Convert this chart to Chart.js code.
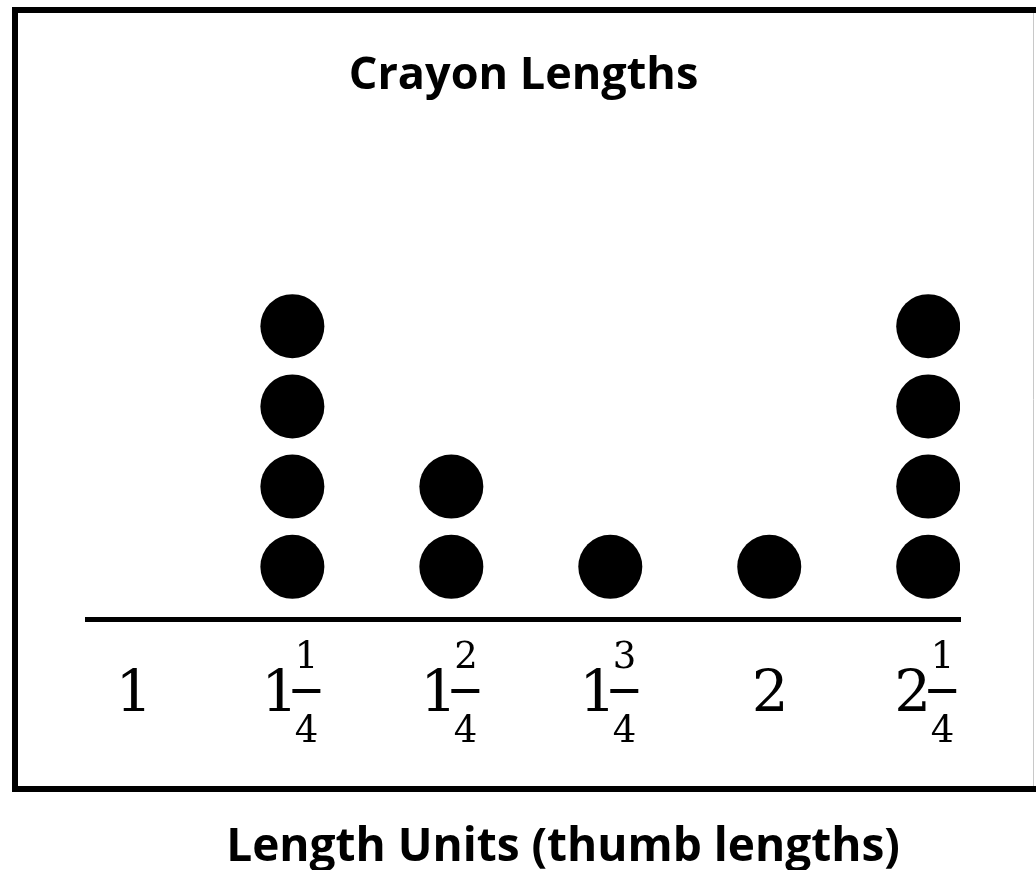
<!DOCTYPE html>
<html>
<head>
<meta charset="utf-8">
<script src="https://cdn.jsdelivr.net/npm/chart.js@4.4.1/dist/chart.umd.min.js"></script>
<style>
  html, body { margin: 0; padding: 0; background: #fff; }
  #wrap { width: 1036px; height: 870px; }
</style>
</head>
<body>
<div id="wrap"><canvas id="dotplot" width="1036" height="870"></canvas></div>
<script>
// ===== data =====
var LENGTHS = [1, 1.25, 1.5, 1.75, 2, 2.25];
var COUNTS  = [0, 4, 2, 1, 1, 4];
// tick labels as mixed numbers: whole part, numerator, denominator
var TICK_WHOLE = ["1", "1", "1", "1", "2", "2"];
var TICK_NUM   = ["",  "1", "2", "3", "",  "1"];
var TICK_DEN   = ["",  "4", "4", "4", "",  "4"];
var TITLE   = "Crayon Lengths";
var X_TITLE = "Length Units (thumb lengths)";

// one dot per crayon, stacked upward
var points = [];
for (var i = 0; i < LENGTHS.length; i++) {
  for (var k = 1; k <= COUNTS[i]; k++) points.push({ x: LENGTHS[i], y: k });
}

var DIGIT_FONT = "'DejaVu Serif'";

// ===== frame around the plot + axis caption below it =====
var framePlugin = {
  id: "frame",
  beforeDraw: function (chart) {
    var ctx = chart.ctx;
    ctx.save();
    ctx.fillStyle = "#fff";
    ctx.fillRect(0, 0, chart.width, chart.height);
    ctx.strokeStyle = "#000";
    ctx.lineWidth = 6;
    ctx.strokeRect(15, 10, 1040, 779);
    ctx.strokeStyle = "#c8c8c8";
    ctx.lineWidth = 1;
    ctx.beginPath();
    ctx.moveTo(1033.5, 13);
    ctx.lineTo(1033.5, 786);
    ctx.stroke();
    ctx.restore();
  },
  afterDraw: function (chart) {
    var ctx = chart.ctx;
    ctx.save();
    ctx.fillStyle = "#000";
    ctx.font = "bold 46px 'Open Sans'";
    ctx.textAlign = "center";
    ctx.textBaseline = "alphabetic";
    ctx.fillText(X_TITLE, 563, 861);
    ctx.restore();
  }
};

// draw text so its ink (not its advance box) is centred on x
function inkCentered(ctx, s, x, y) {
  var m = ctx.measureText(s);
  var w = m.actualBoundingBoxLeft + m.actualBoundingBoxRight;
  ctx.fillText(s, x - w / 2 + m.actualBoundingBoxLeft, y);
}

// ===== stacked-fraction tick labels =====
var fractionTicks = {
  id: "fractionTicks",
  afterDraw: function (chart) {
    var ctx = chart.ctx, sx = chart.scales.x;
    ctx.save();
    ctx.fillStyle = "#000";
    ctx.textBaseline = "alphabetic";
    ctx.textAlign = "left";
    for (var i = 0; i < LENGTHS.length; i++) {
      var c = sx.getPixelForValue(LENGTHS[i]);
      ctx.font = "58px " + DIGIT_FONT;
      if (!TICK_NUM[i]) {
        inkCentered(ctx, TICK_WHOLE[i], c, 711);
        continue;
      }
      // whole part ends just left of the fraction bar
      var m = ctx.measureText(TICK_WHOLE[i]);
      ctx.fillText(TICK_WHOLE[i], c - 2 - m.actualBoundingBoxRight, 711);
      ctx.fillRect(c, 689, 28, 4);
      ctx.font = "37px " + DIGIT_FONT;
      inkCentered(ctx, TICK_NUM[i], c + 14, 668);
      inkCentered(ctx, TICK_DEN[i], c + 14, 742);
    }
    ctx.restore();
  }
};

new Chart(document.getElementById("dotplot"), {
  type: "scatter",
  data: {
    datasets: [{
      data: points,
      pointRadius: 32,
      pointHoverRadius: 32,
      backgroundColor: "#000",
      borderColor: "#000",
      borderWidth: 0
    }]
  },
  options: {
    responsive: false,
    animation: false,
    devicePixelRatio: 1,
    layout: { padding: { left: 87, right: 76, top: 0, bottom: 251 } },
    plugins: {
      legend: { display: false },
      tooltip: { enabled: false },
      title: {
        display: true,
        text: TITLE,
        color: "#000",
        font: { family: "'Open Sans'", size: 45, weight: "bold", lineHeight: 1.2 },
        padding: { top: 49, bottom: 37 }
      }
    },
    scales: {
      x: {
        type: "linear",
        min: 0.927,
        max: 2.30,
        grid: { display: false, drawTicks: false },
        border: { display: true, color: "#000", width: 5 },
        ticks: { display: false }
      },
      y: { display: false, min: 0.35, max: 6.32 }
    }
  },
  plugins: [framePlugin, fractionTicks]
});
</script>
</body>
</html>
